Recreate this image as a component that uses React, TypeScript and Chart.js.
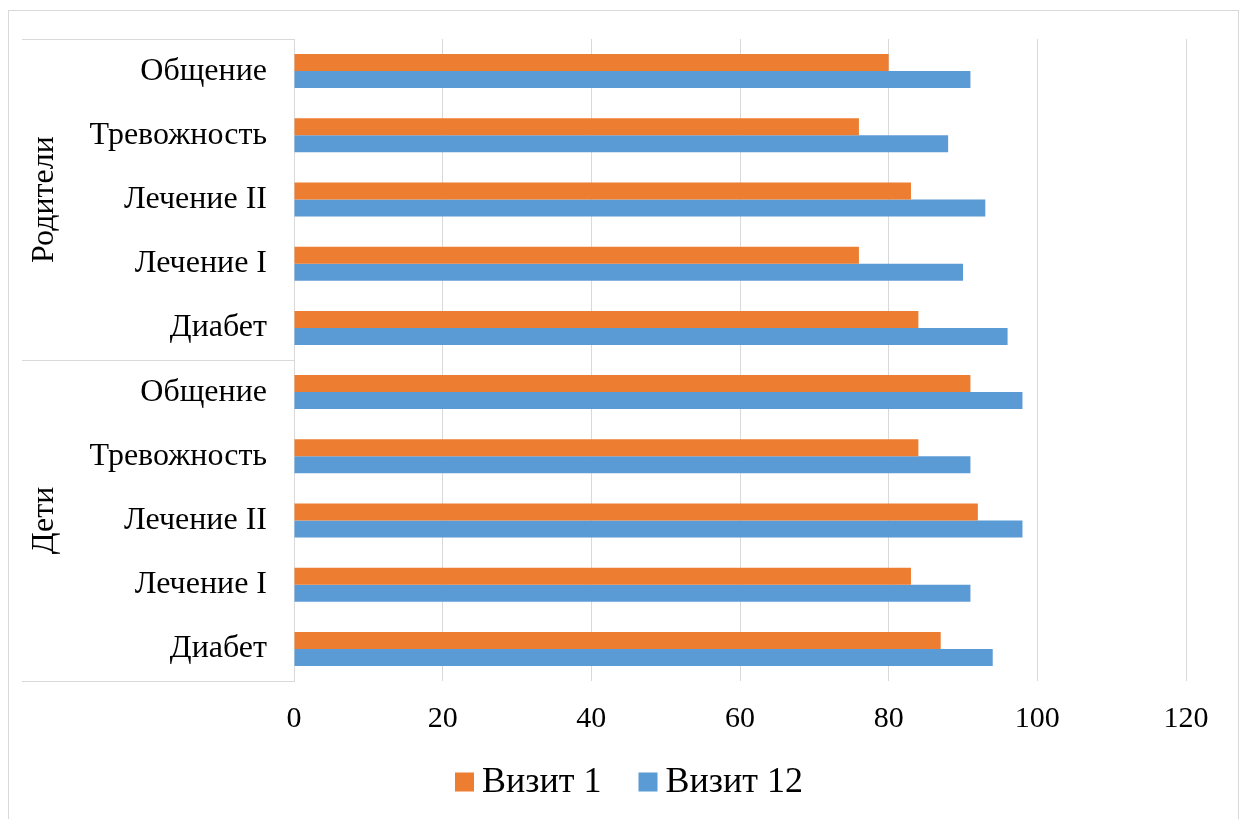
import React, { useEffect, useRef } from 'react';
import { Chart, registerables } from 'chart.js';

Chart.register(...registerables);

// Category groups (outer level) and the items shown in each group (inner level)
const groups = ['Родители', 'Дети'];
const subCategories = ['Общение', 'Тревожность', 'Лечение II', 'Лечение I', 'Диабет'];
const seriesNames = ['Визит 1', 'Визит 12'];

// Scores per row, top to bottom: Родители (5 rows), then Дети (5 rows)
const visit1 = [80, 76, 83, 76, 84, 91, 84, 92, 83, 87];
const visit12 = [91, 88, 93, 90, 96, 98, 91, 98, 91, 94];

const xMin = 0;
const xMax = 120;
const xStep = 20;

const FONT = '"Liberation Serif", "Times New Roman", serif';
const GRID = '#d9d9d9';
const ORANGE = '#ED7D31';
const BLUE = '#5B9BD5';

const labels = groups.flatMap(() => subCategories);

// Draws the outer category level: separators and rotated group names
const groupAxisPlugin = {
  id: 'groupAxis',
  afterDraw(chart: any) {
    const { ctx, chartArea, scales } = chart;
    const y = scales.y;
    const left = y.left;
    const right = chartArea.left;
    const per = subCategories.length;
    const bounds: number[] = [chartArea.top];
    for (let g = 1; g < groups.length; g++) {
      bounds.push((y.getPixelForValue(g * per - 1) + y.getPixelForValue(g * per)) / 2);
    }
    bounds.push(chartArea.bottom);

    ctx.save();
    ctx.strokeStyle = GRID;
    ctx.lineWidth = 1;
    bounds.forEach((b) => {
      const yy = Math.round(b) + 0.5;
      ctx.beginPath();
      ctx.moveTo(left, yy);
      ctx.lineTo(right, yy);
      ctx.stroke();
    });

    ctx.fillStyle = '#000';
    ctx.font = `32px ${FONT}`;
    ctx.textAlign = 'center';
    ctx.textBaseline = 'middle';
    groups.forEach((name, i) => {
      const cy = (bounds[i] + bounds[i + 1]) / 2;
      ctx.save();
      ctx.translate(left + 23, cy);
      ctx.rotate(-Math.PI / 2);
      ctx.fillText(name, 0, 0);
      ctx.restore();
    });
    ctx.restore();
  },
};

// Legend under the value axis: square swatch followed by the series name
const bottomLegendPlugin = {
  id: 'bottomLegend',
  afterDraw(chart: any) {
    const { ctx, chartArea } = chart;
    const box = 19;
    const gapText = 8;
    const gapItem = 37;
    ctx.save();
    ctx.font = `36px ${FONT}`;
    ctx.textBaseline = 'middle';
    ctx.textAlign = 'left';
    const items = chart.data.datasets.map((ds: any) => ({
      text: ds.label,
      color: ds.backgroundColor,
      w: ctx.measureText(ds.label).width,
    }));
    const total =
      items.reduce((s: number, it: any) => s + box + gapText + it.w, 0) + gapItem * (items.length - 1);
    const cy = chartArea.bottom + 101;
    let x = 629 - total / 2;
    items.forEach((it: any) => {
      ctx.fillStyle = it.color;
      ctx.fillRect(x, cy - box / 2, box, box);
      x += box + gapText;
      ctx.fillStyle = '#000';
      ctx.fillText(it.text, x, cy + 1);
      x += it.w + gapItem;
    });
    ctx.restore();
  },
};

export default function App() {
  const canvasRef = useRef<HTMLCanvasElement | null>(null);

  useEffect(() => {
    const canvas = canvasRef.current;
    if (!canvas) return;
    const chart = new Chart(canvas, {
      type: 'bar',
      data: {
        labels,
        datasets: [
          {
            label: seriesNames[0],
            data: visit1,
            backgroundColor: ORANGE,
            borderWidth: 0,
            categoryPercentage: 0.53,
            barPercentage: 1,
          },
          {
            label: seriesNames[1],
            data: visit12,
            backgroundColor: BLUE,
            borderWidth: 0,
            categoryPercentage: 0.53,
            barPercentage: 1,
          },
        ],
      },
      options: {
        indexAxis: 'y',
        responsive: false,
        maintainAspectRatio: false,
        animation: false,
        layout: { padding: { left: 22, right: 57, top: 39, bottom: 0 } },
        plugins: {
          legend: { display: false },
          tooltip: { enabled: false },
        },
        scales: {
          x: {
            type: 'linear',
            min: xMin,
            max: xMax,
            ticks: {
              stepSize: xStep,
              color: '#000',
              font: { family: FONT, size: 30 },
              padding: 20,
            },
            grid: { color: GRID, lineWidth: 1, drawTicks: false },
            border: { display: false },
            afterFit: (scale: any) => {
              scale.height = 138;
            },
          },
          y: {
            type: 'category',
            ticks: {
              color: '#000',
              font: { family: FONT, size: 32 },
              padding: 27,
              autoSkip: false,
            },
            grid: { display: false, drawTicks: false },
            border: { display: true, color: GRID, width: 1 },
            afterFit: (scale: any) => {
              scale.width = 272;
              scale.paddingTop = 0;
              scale.paddingBottom = 0;
            },
          },
        },
      },
      plugins: [groupAxisPlugin, bottomLegendPlugin],
    });
    return () => chart.destroy();
  }, []);

  return (
    <div style={{ position: 'fixed', left: 0, top: 0, width: 1243, height: 819, background: '#fff' }}>
      <div
        style={{
          position: 'absolute',
          left: 8,
          top: 10,
          width: 1231,
          height: 820,
          border: `1px solid ${GRID}`,
          boxSizing: 'border-box',
        }}
      />
      <canvas
        ref={canvasRef}
        width={1243}
        height={819}
        style={{ position: 'absolute', left: 0, top: 0, width: 1243, height: 819 }}
      />
    </div>
  );
}
